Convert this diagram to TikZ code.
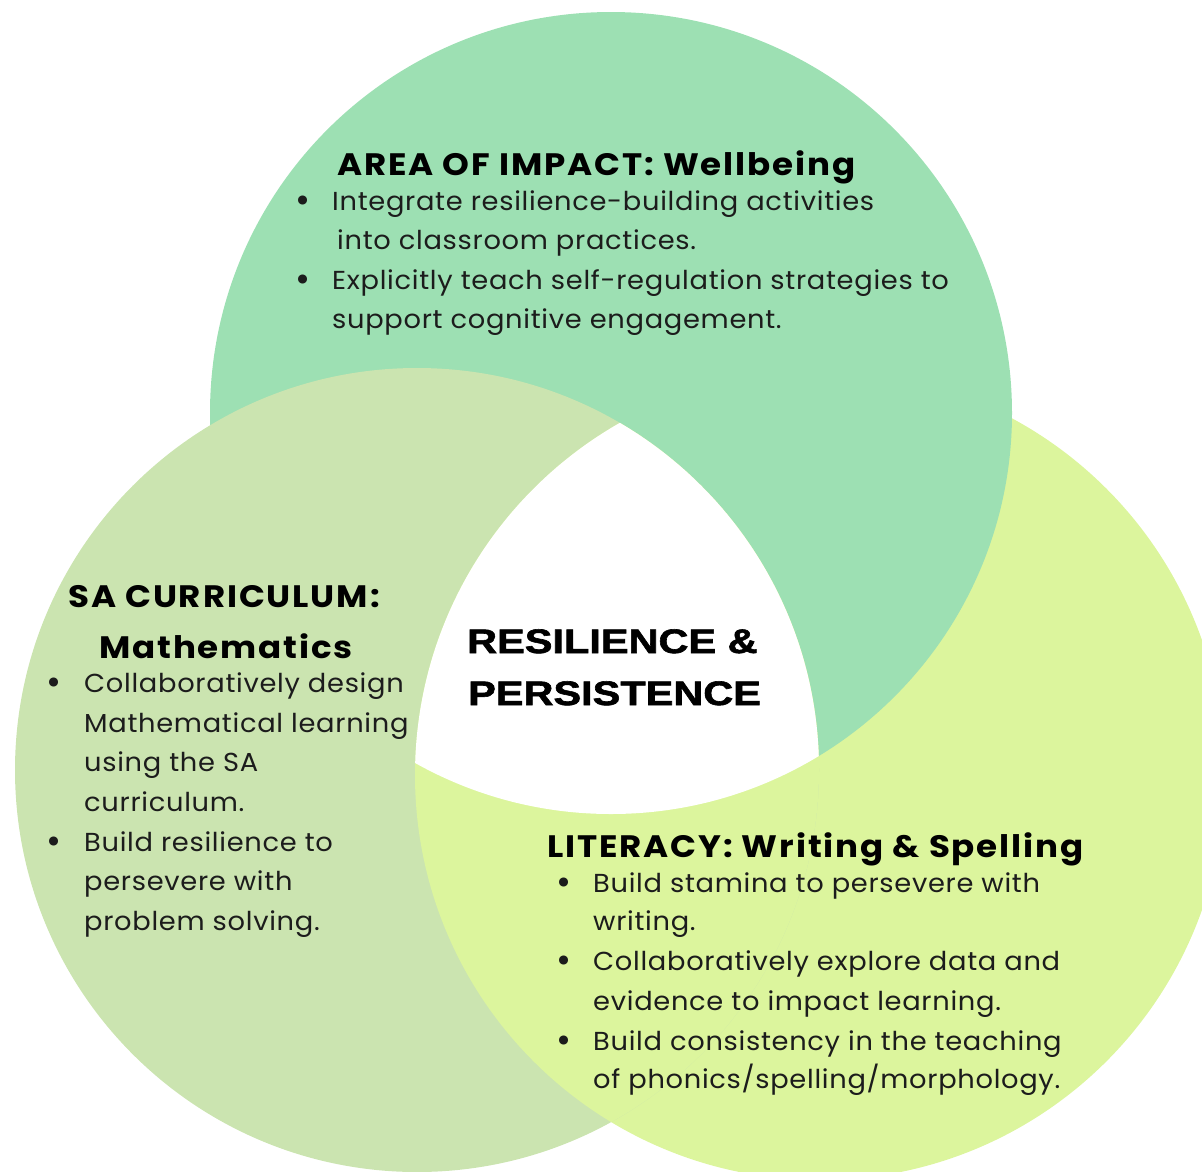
\documentclass[tikz,border=0pt]{standalone}
\usepackage{fontspec}
\setmainfont{Poppins}
\newfontfamily\bodyfont[LetterSpace=2.7,FakeStretch=1.05]{Poppins}
\newfontfamily\headfont[LetterSpace=6,FakeStretch=1.1]{Poppins}
\newfontfamily\ctrfont[FakeStretch=1.22,BoldFeatures={FakeBold=1.8}]{Liberation Sans}
\definecolor{topc}{HTML}{9DE0B3}
\definecolor{leftc}{HTML}{CBE4B0}
\definecolor{rightc}{HTML}{DCF59D}
\definecolor{bodyc}{HTML}{1C1C1C}
\begin{document}
\begin{tikzpicture}[x=1pt,y=-1pt,
  body/.style={anchor=base west, inner sep=0pt, text=bodyc, font=\fontsize{26}{30}\selectfont\bodyfont},
  bul/.style={anchor=base, inner sep=0pt, text=bodyc, font=\fontsize{30}{30}\selectfont\bfseries},
  head/.style={anchor=base west, inner sep=0pt, text=black, font=\fontsize{31}{36}\selectfont\headfont\bfseries},
  ctr/.style={anchor=base west, inner sep=0pt, text=black, font=\fontsize{34}{40}\selectfont\ctrfont\bfseries}]
\useasboundingbox (0,0) rectangle (1202,1171);
\clip (0,0) rectangle (1202,1171);
\coordinate (Tc) at (611,413);
\coordinate (Lc) at (417,770);
\coordinate (Rc) at (820,775);
\fill[rightc] (Rc) circle (405pt);
\fill[topc] (Tc) circle (401pt);
\fill[leftc] (Lc) circle (402pt);
\begin{scope}
  \clip (Lc) circle (402pt);
  \fill[rightc] (Rc) circle (405pt);
\end{scope}
\begin{scope}
  \clip (Lc) circle (402pt);
  \clip (Tc) circle (401pt);
  \fill[white] (Rc) circle (405pt);
\end{scope}
% top circle text
\node[head] (th) at (337,175) {AREA OF IMPACT: Wellbeing};
\node[bul] (tb1) at (303,210) {•};
\node[body] (t1) at (332,210) {Integrate resilience-building activities};
\node[body] (t2) at (337,249) {into classroom practices.};
\node[bul] (tb2) at (303,289) {•};
\node[body] (t3) at (332,289) {Explicitly teach self-regulation strategies to};
\node[body] (t4) at (332,328) {support cognitive engagement.};
% left circle text
\node[head] (lh1) at (68,607) {SA CURRICULUM:};
\node[head] (lh2) at (99,658) {Mathematics};
\node[bul] (lb1) at (54,692) {•};
\node[body] (l1) at (84,692) {Collaboratively design};
\node[body] (l2) at (84,732) {Mathematical learning};
\node[body] (l3) at (84,771) {using the SA};
\node[body] (l4) at (84,811) {curriculum.};
\node[bul] (lb2) at (54,851) {•};
\node[body] (l5) at (84,851) {Build resilience to};
\node[body] (l6) at (84,890) {persevere with};
\node[body] (l7) at (84,930) {problem solving.};
% right circle text
\node[head] (rh) at (547,857) {LITERACY: Writing \& Spelling};
\node[bul] (rb1) at (564,892) {•};
\node[body] (r1) at (593,892) {Build stamina to persevere with};
\node[body] (r2) at (593,930) {writing.};
\node[bul] (rb2) at (564,970) {•};
\node[body] (r3) at (593,970) {Collaboratively explore data and};
\node[body] (r4) at (593,1010) {evidence to impact learning.};
\node[bul] (rb3) at (564,1050) {•};
\node[body] (r5) at (593,1050) {Build consistency in the teaching};
\node[body] (r6) at (593,1088) {of phonics/spelling/morphology.};
% centre
\node[ctr] (c1) at (467,653) {RESILIENCE \&};
\node[ctr] (c2) at (468,705) {PERSISTENCE};
\end{tikzpicture}
\end{document}
